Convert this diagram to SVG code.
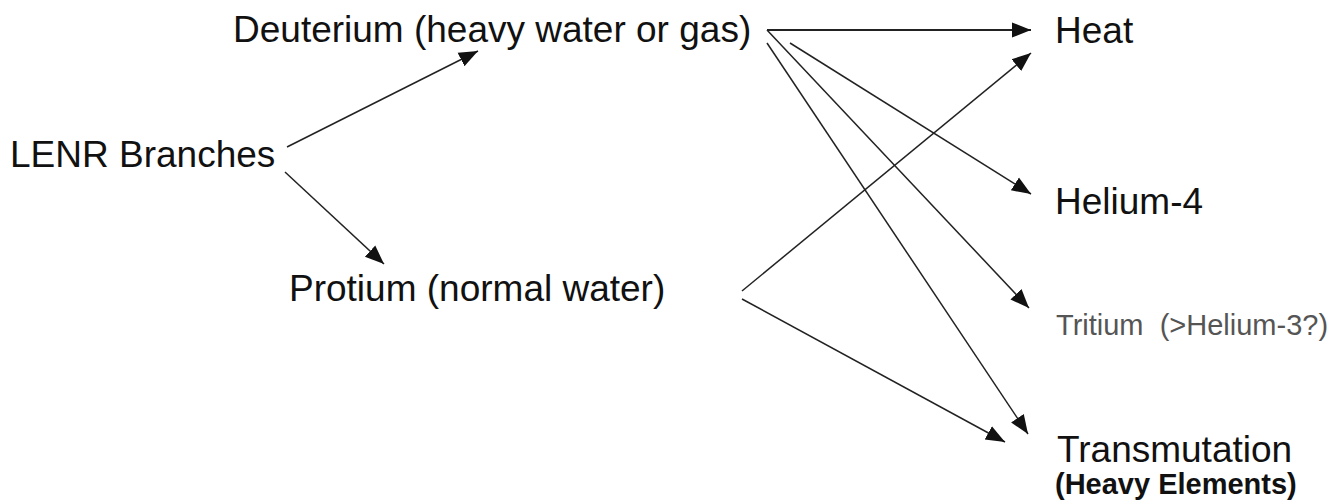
<svg xmlns="http://www.w3.org/2000/svg" width="1332" height="500" viewBox="0 0 1332 500">
<style>
text{font-family:"Liberation Sans",Arial,sans-serif;fill:#111;}
.big{font-size:37px;}
.small{font-size:29px;fill:#555;white-space:pre;}
.bold{font-size:29px;font-weight:bold;}
.c line{stroke:#222;stroke-width:1.5;fill:none;marker-end:url(#ah);}
</style>
<defs>
<marker id="ah" viewBox="0 0 10 10" refX="10" refY="5" markerWidth="19" markerHeight="19" markerUnits="userSpaceOnUse" orient="auto">
<path d="M0,1 L10,5 L0,9 Z" fill="#111"/>
</marker>
</defs>
<rect width="1332" height="500" fill="#fff"/>
<g id="lenr"><text class="big" x="10" y="167">LENR Branches</text></g>
<g id="deuterium"><text class="big" x="233" y="42">Deuterium (heavy water or gas)</text></g>
<g id="protium"><text class="big" x="289" y="301">Protium (normal water)</text></g>
<g id="heat"><text class="big" x="1055" y="43">Heat</text></g>
<g id="helium4"><text class="big" x="1055" y="214">Helium-4</text></g>
<g id="tritium"><text class="small" x="1056" y="335" xml:space="preserve">Tritium  (&gt;Helium-3?)</text></g>
<g id="transmutation"><text class="big" x="1057" y="462">Transmutation</text><text class="bold" x="1055" y="494">(Heavy Elements)</text></g>
<g class="c" id="connectors">
<line x1="287" y1="147" x2="478" y2="51"/>
<line x1="285" y1="172" x2="384" y2="264"/>
<line x1="767" y1="30" x2="1031" y2="30" style="stroke-width:2"/>
<line x1="767" y1="30" x2="1029" y2="308"/>
<line x1="767" y1="43" x2="1028" y2="434"/>
<line x1="790" y1="43" x2="1031" y2="194"/>
<line x1="742" y1="291" x2="1031" y2="53"/>
<line x1="742" y1="299" x2="1005" y2="442"/>
</g>
</svg>
